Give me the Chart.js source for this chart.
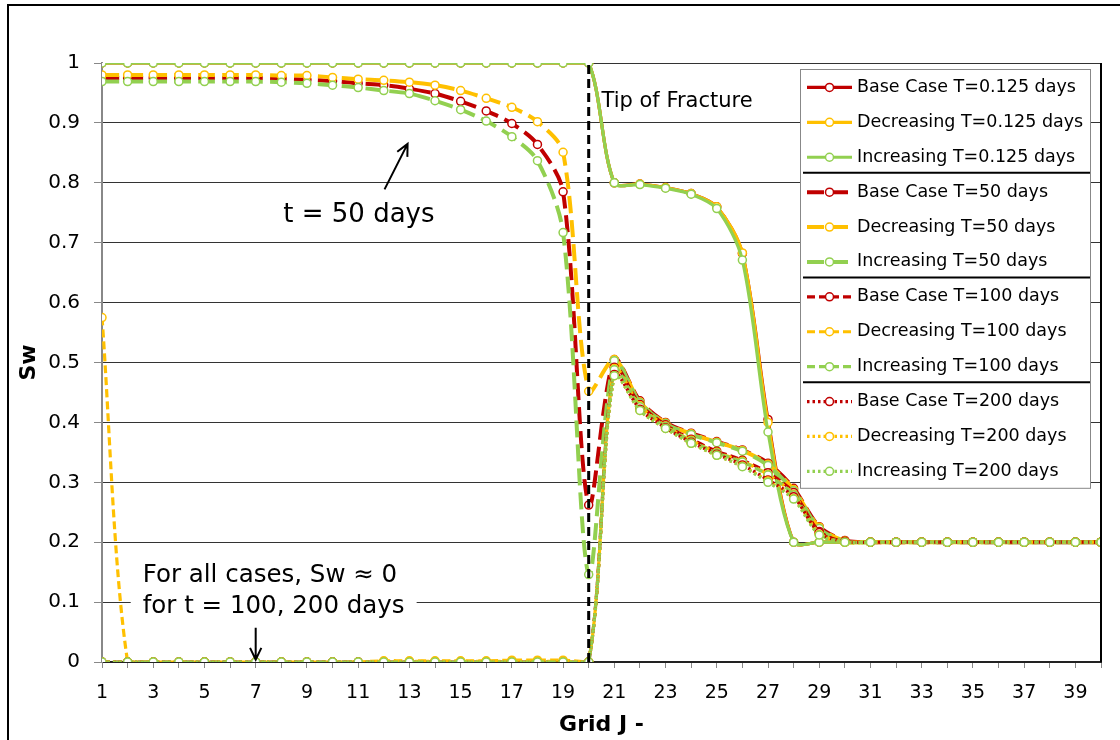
<!DOCTYPE html>
<html>
<head>
<meta charset="utf-8">
<script src="https://cdn.jsdelivr.net/npm/chart.js@4.4.1/dist/chart.umd.min.js"></script>
<style>
  html, body { margin: 0; padding: 0; background: #fff; }
  #wrap { position: relative; width: 1120px; height: 740px; overflow: hidden; }
  #frame { position: absolute; left: 7px; top: 4px; width: 1200px; height: 800px; border: 2px solid #000; }
  #chart { position: absolute; left: 0; top: 0; }
</style>
</head>
<body>
<div id="wrap">
  <div id="frame"></div>
  <canvas id="chart" width="1120" height="740"></canvas>
</div>
<script>
/* ===== Data ===== */
const gridJ = [1, 2, 3, 4, 5, 6, 7, 8, 9, 10, 11, 12, 13, 14, 15, 16, 17, 18, 19, 20,
  21, 22, 23, 24, 25, 26, 27, 28, 29, 30, 31, 32, 33, 34, 35, 36, 37, 38, 39, 40];

// T = 0.125 days
const base0125 = [1, 1, 1, 1, 1, 1, 1, 1, 1, 1, 1, 1, 1, 1, 1, 1, 1, 1, 1, 1,
  0.800, 0.798, 0.792, 0.782, 0.760, 0.682, 0.405, 0.200, 0.2, 0.2, 0.2, 0.2, 0.2, 0.2, 0.2, 0.2, 0.2, 0.2, 0.2, 0.2];
const dec0125 = [1, 1, 1, 1, 1, 1, 1, 1, 1, 1, 1, 1, 1, 1, 1, 1, 1, 1, 1, 1,
  0.800, 0.798, 0.792, 0.782, 0.760, 0.683, 0.400, 0.200, 0.2, 0.2, 0.2, 0.2, 0.2, 0.2, 0.2, 0.2, 0.2, 0.2, 0.2, 0.2];
const inc0125 = [1, 1, 1, 1, 1, 1, 1, 1, 1, 1, 1, 1, 1, 1, 1, 1, 1, 1, 1, 1,
  0.800, 0.797, 0.791, 0.781, 0.757, 0.671, 0.384, 0.200, 0.2, 0.2, 0.2, 0.2, 0.2, 0.2, 0.2, 0.2, 0.2, 0.2, 0.2, 0.2];

// T = 50 days
const base50 = [0.975, 0.975, 0.975, 0.975, 0.975, 0.975, 0.975, 0.974, 0.972, 0.970,
  0.966, 0.963, 0.957, 0.949, 0.936, 0.920, 0.899, 0.864, 0.785, 0.262,
  0.505, 0.436, 0.400, 0.382, 0.368, 0.354, 0.332, 0.290, 0.226, 0.203,
  0.2, 0.2, 0.2, 0.2, 0.2, 0.2, 0.2, 0.2, 0.2, 0.2];
const dec50 = [0.980, 0.980, 0.980, 0.980, 0.980, 0.980, 0.980, 0.979, 0.979, 0.976,
  0.973, 0.971, 0.968, 0.963, 0.954, 0.941, 0.926, 0.902, 0.851, 0.452,
  0.505, 0.434, 0.399, 0.381, 0.367, 0.353, 0.330, 0.288, 0.225, 0.202,
  0.2, 0.2, 0.2, 0.2, 0.2, 0.2, 0.2, 0.2, 0.2, 0.2];
const inc50 = [0.969, 0.969, 0.969, 0.969, 0.969, 0.969, 0.969, 0.968, 0.966, 0.963,
  0.959, 0.954, 0.949, 0.937, 0.922, 0.903, 0.877, 0.837, 0.717, 0.146,
  0.503, 0.433, 0.398, 0.380, 0.366, 0.352, 0.328, 0.286, 0.223, 0.201,
  0.2, 0.2, 0.2, 0.2, 0.2, 0.2, 0.2, 0.2, 0.2, 0.2];

// T = 100 days
const base100 = [0, 0, 0, 0, 0, 0, 0, 0, 0, 0, 0, 0, 0, 0, 0, 0, 0, 0, 0, 0,
  0.492, 0.430, 0.396, 0.372, 0.352, 0.337, 0.316, 0.283, 0.218, 0.201,
  0.2, 0.2, 0.2, 0.2, 0.2, 0.2, 0.2, 0.2, 0.2, 0.2];
const dec100 = [0.575, 0, 0, 0, 0, 0, 0, 0, 0, 0, 0, 0.002, 0.002, 0.002, 0.002, 0.002, 0.003, 0.003, 0.003, 0,
  0.490, 0.428, 0.394, 0.370, 0.350, 0.335, 0.313, 0.280, 0.215, 0.200,
  0.2, 0.2, 0.2, 0.2, 0.2, 0.2, 0.2, 0.2, 0.2, 0.2];
const inc100 = [0, 0, 0, 0, 0, 0, 0, 0, 0, 0, 0, 0, 0, 0, 0, 0, 0, 0, 0, 0,
  0.488, 0.426, 0.393, 0.369, 0.349, 0.334, 0.312, 0.279, 0.214, 0.200,
  0.2, 0.2, 0.2, 0.2, 0.2, 0.2, 0.2, 0.2, 0.2, 0.2];

// T = 200 days
const base200 = [0, 0, 0, 0, 0, 0, 0, 0, 0, 0, 0, 0, 0, 0, 0, 0, 0, 0, 0, 0,
  0.480, 0.422, 0.391, 0.367, 0.347, 0.329, 0.304, 0.276, 0.216, 0.201,
  0.2, 0.2, 0.2, 0.2, 0.2, 0.2, 0.2, 0.2, 0.2, 0.2];
const dec200 = [0, 0, 0, 0, 0, 0, 0, 0, 0, 0, 0, 0.001, 0.001, 0.001, 0.001, 0.001, 0.001, 0.001, 0.001, 0,
  0.478, 0.420, 0.390, 0.365, 0.345, 0.327, 0.302, 0.273, 0.213, 0.200,
  0.2, 0.2, 0.2, 0.2, 0.2, 0.2, 0.2, 0.2, 0.2, 0.2];
const inc200 = [0, 0, 0, 0, 0, 0, 0, 0, 0, 0, 0, 0, 0, 0, 0, 0, 0, 0, 0, 0,
  0.478, 0.420, 0.390, 0.365, 0.345, 0.326, 0.300, 0.272, 0.212, 0.200,
  0.2, 0.2, 0.2, 0.2, 0.2, 0.2, 0.2, 0.2, 0.2, 0.2];

// fracture tip marker line
const tipX = [20, 20];
const tipY = [0, 1];

const yTicks = [0, 0.1, 0.2, 0.3, 0.4, 0.5, 0.6, 0.7, 0.8, 0.9, 1];

/* ===== Styles ===== */
const RED = '#C00000', ORANGE = '#FFC000', GREEN = '#92D050';
const LINE_STYLES = {
  solid: { dash: [], width: 3.2 },
  long: { dash: [17, 7], width: 4 },
  dash: { dash: [8, 4], width: 3.2 },
  dot: { dash: [2.5, 3], width: 3.2 }
};
const FONT = 'DejaVu Sans';

function series(label, values, color, style) {
  const st = LINE_STYLES[style];
  return {
    label,
    data: values,
    borderColor: color,
    borderWidth: st.width,
    borderDash: st.dash,
    tension: 0.3,
    pointRadius: 4,
    pointBorderWidth: 1.5,
    pointBackgroundColor: '#fff',
    pointBorderColor: color
  };
}

const datasets = [
  series('Base Case T=0.125 days', base0125, RED, 'solid'),
  series('Decreasing T=0.125 days', dec0125, ORANGE, 'solid'),
  series('Increasing T=0.125 days', inc0125, GREEN, 'solid'),
  series('Base Case T=50 days', base50, RED, 'long'),
  series('Decreasing T=50 days', dec50, ORANGE, 'long'),
  series('Increasing T=50 days', inc50, GREEN, 'long'),
  series('Base Case T=100 days', base100, RED, 'dash'),
  series('Decreasing T=100 days', dec100, ORANGE, 'dash'),
  series('Increasing T=100 days', inc100, GREEN, 'dash'),
  series('Base Case T=200 days', base200, RED, 'dot'),
  series('Decreasing T=200 days', dec200, ORANGE, 'dot'),
  series('Increasing T=200 days', inc200, GREEN, 'dot')
];
// later series on top, like the spreadsheet
datasets.forEach((d, i) => { d.order = 20 - i; });

datasets.push({
  label: 'tip',
  hideInLegend: true,
  data: tipX.map((x, i) => ({ x, y: tipY[i] })),
  borderColor: '#000',
  borderWidth: 3,
  borderDash: [9, 5],
  pointRadius: 0,
  tension: 0,
  order: 0
});

/* ===== Annotations (data coordinates) ===== */
const notes = {
  id: 'notes',
  beforeDatasetsDraw(chart) {
    const { ctx, scales: { x, y } } = chart;
    // white box behind the "for all cases" note
    ctx.save();
    ctx.font = `24.5px "${FONT}"`;
    const w = Math.max(ctx.measureText('For all cases, Sw ≈ 0').width,
      ctx.measureText('for t = 100, 200 days').width);
    const lx = x.getPixelForValue(2.59);
    ctx.fillStyle = '#fff';
    ctx.fillRect(lx - 12, y.getPixelForValue(0.145) - 16, w + 24, y.getPixelForValue(0.092) - y.getPixelForValue(0.145) + 34);
    ctx.restore();
  },
  afterDatasetsDraw(chart) {
    const { ctx, scales: { x, y } } = chart;
    ctx.save();
    ctx.fillStyle = '#000';
    ctx.textBaseline = 'middle';

    ctx.font = `21px "${FONT}"`;
    ctx.textAlign = 'left';
    ctx.fillText('Tip of Fracture', x.getPixelForValue(20.5), y.getPixelForValue(0.935));

    ctx.font = `26px "${FONT}"`;
    ctx.textAlign = 'center';
    ctx.fillText('t = 50 days', x.getPixelForValue(11.03), y.getPixelForValue(0.745));

    ctx.font = `24.5px "${FONT}"`;
    ctx.textAlign = 'left';
    ctx.fillText('For all cases, Sw ≈ 0', x.getPixelForValue(2.59), y.getPixelForValue(0.145));
    ctx.fillText('for t = 100, 200 days', x.getPixelForValue(2.59), y.getPixelForValue(0.092));

    arrow(ctx, x.getPixelForValue(12.03), y.getPixelForValue(0.789), x.getPixelForValue(12.93), y.getPixelForValue(0.865));
    arrow(ctx, x.getPixelForValue(7), y.getPixelForValue(0.057), x.getPixelForValue(7), y.getPixelForValue(0.004));

    // plot area right border
    const a = chart.chartArea;
    ctx.strokeStyle = '#000';
    ctx.lineWidth = 2;
    ctx.beginPath();
    ctx.moveTo(a.right, a.top);
    ctx.lineTo(a.right, a.bottom);
    ctx.stroke();
    ctx.restore();
  }
};

function arrow(ctx, x1, y1, x2, y2) {
  const ang = Math.atan2(y2 - y1, x2 - x1);
  const head = 13;
  ctx.strokeStyle = '#000';
  ctx.lineWidth = 2;
  ctx.beginPath();
  ctx.moveTo(x1, y1);
  ctx.lineTo(x2, y2);
  ctx.moveTo(x2 - head * Math.cos(ang - 0.45), y2 - head * Math.sin(ang - 0.45));
  ctx.lineTo(x2, y2);
  ctx.lineTo(x2 - head * Math.cos(ang + 0.45), y2 - head * Math.sin(ang + 0.45));
  ctx.stroke();
}

/* ===== Boxed legend with group separators ===== */
const boxLegend = {
  id: 'boxLegend',
  afterDraw(chart) {
    const ctx = chart.ctx;
    const items = chart.data.datasets.filter(d => !d.hideInLegend);
    const left = 800, top = 69, width = 290, rowH = 34.9;
    const height = rowH * items.length;
    ctx.save();
    ctx.fillStyle = '#fff';
    ctx.fillRect(left, top, width, height);
    ctx.strokeStyle = '#888';
    ctx.lineWidth = 1;
    ctx.strokeRect(left + 0.5, top + 0.5, width, height);

    ctx.font = `17.5px "${FONT}"`;
    ctx.textBaseline = 'middle';
    ctx.textAlign = 'left';
    items.forEach((d, i) => {
      const cy = top + rowH / 2 + 1 + i * rowH;
      ctx.strokeStyle = d.borderColor;
      ctx.lineWidth = d.borderWidth;
      ctx.setLineDash(d.borderDash);
      ctx.beginPath();
      ctx.moveTo(807, cy);
      ctx.lineTo(852, cy);
      ctx.stroke();
      ctx.setLineDash([]);
      ctx.fillStyle = '#fff';
      ctx.lineWidth = 1.5;
      ctx.beginPath();
      ctx.arc(829.5, cy, 4, 0, Math.PI * 2);
      ctx.fill();
      ctx.stroke();
      ctx.fillStyle = '#000';
      ctx.fillText(d.label, 857, cy);
      if (i % 3 === 2 && i < items.length - 1) {
        ctx.strokeStyle = '#000';
        ctx.lineWidth = 2;
        ctx.beginPath();
        ctx.moveTo(left + 3, cy + 15.5);
        ctx.lineTo(left + width, cy + 15.5);
        ctx.stroke();
      }
    });
    ctx.restore();
  }
};

/* ===== Chart ===== */
new Chart(document.getElementById('chart'), {
  type: 'line',
  data: { labels: gridJ, datasets },
  options: {
    responsive: false,
    animation: false,
    layout: { padding: { top: 63, right: 19, left: 0, bottom: 0 } },
    plugins: { legend: { display: false }, tooltip: { enabled: false } },
    scales: {
      x: {
        type: 'linear',
        min: 1,
        max: 40,
        afterFit(s) { s.height = 78; },
        ticks: {
          stepSize: 1,
          autoSkip: false,
          maxRotation: 0,
          padding: 14,
          color: '#000',
          font: { family: FONT, size: 19 },
          callback: v => (v % 2 === 1 ? String(v) : '')
        },
        grid: { drawOnChartArea: false, tickLength: 6, color: '#888' },
        border: { color: '#222', width: 2 },
        title: {
          display: true, text: 'Grid J -', color: '#000',
          font: { family: FONT, size: 22, weight: 'bold' },
          padding: { top: 0, bottom: 2 }
        }
      },
      y: {
        min: 0,
        max: 1,
        afterFit(s) { s.width = 102; },
        afterBuildTicks(s) { s.ticks = yTicks.map(v => ({ value: v })); },
        ticks: {
          padding: 14,
          color: '#000',
          font: { family: FONT, size: 20 },
          callback: v => (v === 0 ? '0' : v === 1 ? '1' : v.toFixed(1))
        },
        grid: { color: '#333', tickLength: 8, tickColor: '#888' },
        border: { color: '#888', width: 2 },
        title: {
          display: true, text: 'Sw', color: '#000',
          font: { family: FONT, size: 22, weight: 'bold' },
          padding: { top: 16, bottom: 0 }
        }
      }
    }
  },
  plugins: [notes, boxLegend]
});
</script>
</body>
</html>
